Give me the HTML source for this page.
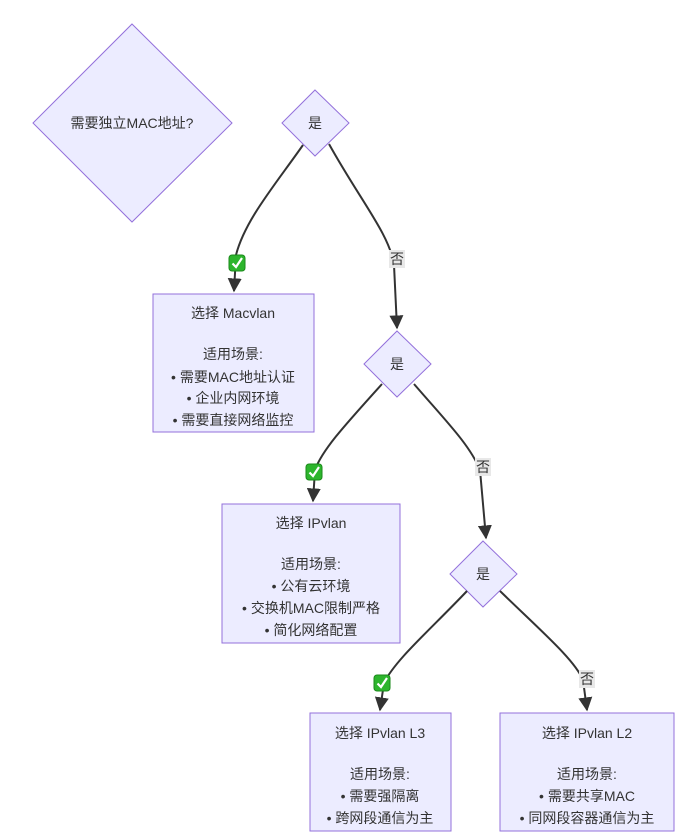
<!DOCTYPE html>
<html><head><meta charset="utf-8"><style>
html,body{margin:0;padding:0;background:#fff;}
svg{display:block}
text{font-family:"Liberation Sans","Noto Sans CJK SC",sans-serif;font-size:14px;fill:#333;text-anchor:middle;}
.n{fill:#ECECFF;stroke:#9370DB;stroke-width:1;}
.e{fill:none;stroke:#333;stroke-width:2;}
</style></head><body>
<svg width="698" height="836" viewBox="0 0 698 836" xmlns="http://www.w3.org/2000/svg">
<defs>
<marker id="a" viewBox="0 0 10 10" refX="9" refY="5" markerWidth="7" markerHeight="7" orient="auto-start-reverse"><path d="M0,0L10,5L0,10z" fill="#333"/></marker>
<g id="ck"><rect x="-8" y="-8" width="16" height="16" rx="3" fill="#2db52d" stroke="#1a8a1a"/><path d="M-4.5,0.5 L-1,4 L5,-5" fill="none" stroke="#fff" stroke-width="2.2"/></g>
</defs>
<polygon class="n" points="132,24 232,123 132,222 33,123"/>
<text x="132" y="128">需要独立MAC地址?</text>
<polygon class="n" points="315,90 349,123 315,156 282,123"/>
<text x="315" y="128">是</text>
<polygon class="n" points="397,331 431,364 397,397 364,364"/>
<text x="397" y="369">是</text>
<polygon class="n" points="483,541 517,574 483,607 450,574"/>
<text x="483" y="579">是</text>

<path class="e" d="M303,145 C275,185 245,220 236,255 L234,291" marker-end="url(#a)"/>
<path class="e" d="M329,144 C360,200 390,235 394,265 L397,328" marker-end="url(#a)"/>
<path class="e" d="M382,384 C345,425 322,450 315,470 L313,501" marker-end="url(#a)"/>
<path class="e" d="M414,384 C445,420 470,445 480,470 L486,538" marker-end="url(#a)"/>
<path class="e" d="M467,591 C430,630 395,660 384,683 L380,710" marker-end="url(#a)"/>
<path class="e" d="M500,591 C540,630 575,660 583,680 L587,710" marker-end="url(#a)"/>

<use href="#ck" x="237" y="263"/>
<use href="#ck" x="314" y="472"/>
<use href="#ck" x="382" y="683"/>
<rect x="389" y="250" width="16" height="18" fill="#e8e8e8"/><text x="397" y="264">否</text>
<rect x="475" y="458" width="16" height="18" fill="#e8e8e8"/><text x="483" y="472">否</text>
<rect x="579" y="670" width="16" height="18" fill="#e8e8e8"/><text x="587" y="684">否</text>

<rect class="n" x="153" y="294" width="161" height="138"/>
<text x="233" y="318">选择 Macvlan</text>
<text x="233" y="359">适用场景:</text>
<text x="233" y="382">• 需要MAC地址认证</text>
<text x="233" y="403">• 企业内网环境</text>
<text x="233" y="425">• 需要直接网络监控</text>

<rect class="n" x="222" y="504" width="178" height="139"/>
<text x="311" y="528">选择 IPvlan</text>
<text x="311" y="569">适用场景:</text>
<text x="311" y="591">• 公有云环境</text>
<text x="311" y="613">• 交换机MAC限制严格</text>
<text x="311" y="635">• 简化网络配置</text>

<rect class="n" x="310" y="713" width="141" height="118"/>
<text x="380" y="738">选择 IPvlan L3</text>
<text x="380" y="779">适用场景:</text>
<text x="380" y="801">• 需要强隔离</text>
<text x="380" y="823">• 跨网段通信为主</text>

<rect class="n" x="500" y="713" width="174" height="118"/>
<text x="587" y="738">选择 IPvlan L2</text>
<text x="587" y="779">适用场景:</text>
<text x="587" y="801">• 需要共享MAC</text>
<text x="587" y="823">• 同网段容器通信为主</text>
</svg>
</body></html>
